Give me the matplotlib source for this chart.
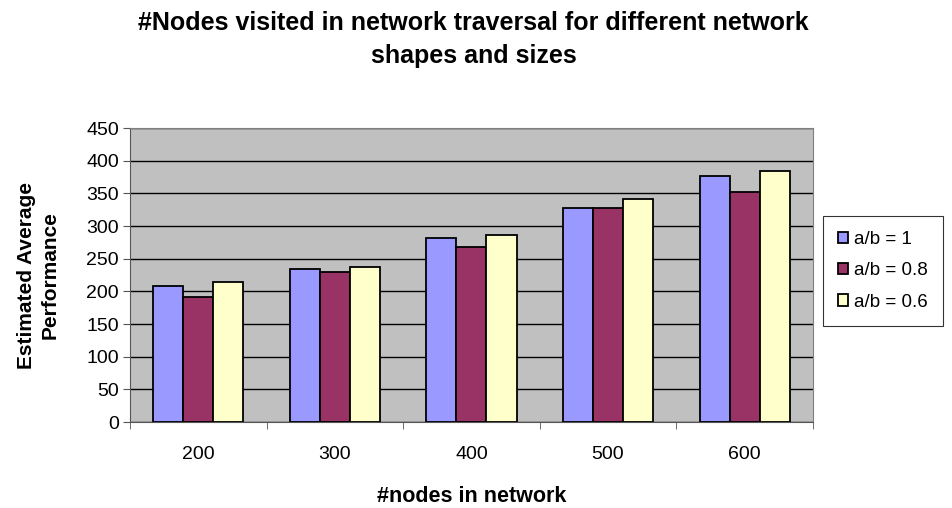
import numpy as np
import matplotlib
matplotlib.use("Agg")
import matplotlib.pyplot as plt

plt.rcParams["font.family"] = ["Liberation Sans", "DejaVu Sans"]

# data
sizes = ["200", "300", "400", "500", "600"]
series_names = ["a/b = 1", "a/b = 0.8", "a/b = 0.6"]
ratio_1 = [208, 235, 281, 327, 376]
ratio_08 = [192, 229, 268, 327, 352]
ratio_06 = [214, 238, 287, 342, 385]
colors = ["#9999FF", "#993366", "#FFFFCC"]

fig = plt.figure(figsize=(9.53, 5.08), dpi=100)
ax = fig.add_axes([0.1364, 0.169, 0.853 - 0.1364, 0.748 - 0.169])
ax.set_facecolor("#C0C0C0")

x = np.arange(len(sizes))
w = 0.22
for i, (vals, name, c) in enumerate(zip([ratio_1, ratio_08, ratio_06], series_names, colors)):
    ax.bar(x + (i - 1) * w, vals, w, color=c, edgecolor="black", linewidth=1.3,
           label=name, zorder=3)

ax.set_ylim(0, 450)
ax.set_yticks(range(0, 451, 50))
ax.set_xlim(-0.5, len(sizes) - 0.5)
ax.set_xticks(x)
ax.set_xticklabels(sizes)
ax.set_xticks(np.arange(-0.5, len(sizes)), minor=True)
ax.tick_params(axis="x", which="major", length=0, pad=17, labelsize=14)
ax.tick_params(axis="x", which="minor", length=5, color="#555555", direction="out")
ax.tick_params(axis="y", length=5, color="#555555", labelsize=14, pad=3)
ax.yaxis.grid(True, color="black", linewidth=1.0, zorder=1)
ax.set_axisbelow(True)
for side in ["top", "right"]:
    ax.spines[side].set_color("#808080")
ax.spines["left"].set_color("#555555")
ax.spines["bottom"].set_color("#555555")

ax.set_xlabel("#nodes in network", fontweight="bold", fontsize=15.5, labelpad=17)
ax.set_ylabel("Estimated Average\nPerformance", fontweight="bold", fontsize=15,
              labelpad=19, linespacing=1.3)

fig.text(0.497, 0.922,
         "#Nodes visited in network traversal for different network\nshapes and sizes",
         ha="center", va="center", fontweight="bold", fontsize=18, linespacing=1.45)

leg = ax.legend(loc="center left", bbox_to_anchor=(1.015, 0.514), frameon=True,
                fancybox=False, edgecolor="black", fontsize=13.5,
                handlelength=0.55, handleheight=0.55, handletextpad=0.3,
                labelspacing=0.75, borderpad=0.8, borderaxespad=0)
leg.get_frame().set_linewidth(0.8)

fig.savefig("out.png", dpi=100)
